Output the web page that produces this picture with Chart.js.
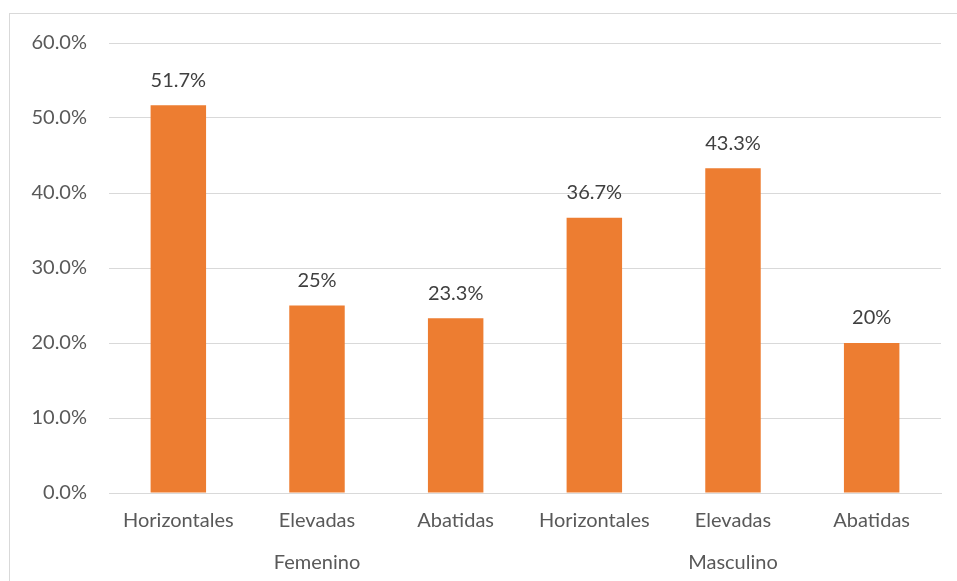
<!DOCTYPE html>
<html lang="es">
<head>
    <meta charset="UTF-8">
    <title>Posición por sexo</title>
    <script src="https://cdn.jsdelivr.net/npm/chart.js"></script>
    <style>
        html, body { margin: 0; padding: 0; background: #fff; }
        .wrap { width: 957px; height: 581px; position: relative; }
    </style>
</head>
<body>
    <div class="wrap">
        <canvas id="barChart"></canvas>
    </div>

    <script>
        // chart data
        var categories = ["Horizontales", "Elevadas", "Abatidas", "Horizontales", "Elevadas", "Abatidas"];
        var groups = ["", "Femenino", "", "", "Masculino", ""];
        var values = [51.7, 25, 23.3, 36.7, 43.3, 20];
        var valueLabels = ["51.7%", "25%", "23.3%", "36.7%", "43.3%", "20%"];
        var yTicks = [0, 10, 20, 30, 40, 50, 60];

        var FONT = "Lato, 'Open Sans', sans-serif";
        var FONT_SIZE = 20;

        // light gray frame around the chart
        var framePlugin = {
            id: 'frame',
            beforeDraw: function (chart) {
                var ctx = chart.ctx;
                ctx.save();
                ctx.strokeStyle = '#D9D9D9';
                ctx.lineWidth = 1;
                ctx.strokeRect(9.5, 13.5, chart.width + 20, chart.height + 20);
                ctx.restore();
            }
        };

        // value labels over each bar
        var valueLabelPlugin = {
            id: 'valueLabels',
            afterDatasetsDraw: function (chart) {
                var ctx = chart.ctx;
                var meta = chart.getDatasetMeta(0);
                ctx.save();
                ctx.font = FONT_SIZE + 'px ' + FONT;
                ctx.fillStyle = '#404040';
                ctx.textAlign = 'center';
                ctx.textBaseline = 'middle';
                meta.data.forEach(function (bar, i) {
                    ctx.fillText(valueLabels[i], bar.x, bar.y - 25);
                });
                ctx.restore();
            }
        };

        var ctx = document.getElementById("barChart").getContext("2d");
        var myBarChart = new Chart(ctx, {
            type: 'bar',
            data: {
                labels: categories,
                datasets: [{
                    data: values,
                    backgroundColor: "#ED7D31",
                    borderWidth: 0,
                    categoryPercentage: 1,
                    barPercentage: 0.4
                }]
            },
            options: {
                responsive: true,
                maintainAspectRatio: false,
                animation: false,
                layout: {
                    padding: { left: 20, top: 43, right: 16, bottom: 0 }
                },
                plugins: {
                    legend: { display: false },
                    tooltip: { enabled: false }
                },
                scales: {
                    y: {
                        min: 0,
                        max: 60,
                        afterBuildTicks: function (scale) {
                            scale.ticks = yTicks.map(function (v) { return { value: v }; });
                        },
                        afterFit: function (scale) { scale.width = 89; },
                        border: { display: false },
                        grid: { color: '#D9D9D9', drawTicks: false },
                        ticks: {
                            padding: 22,
                            color: '#595959',
                            font: { family: FONT, size: FONT_SIZE },
                            callback: function (v) { return v.toFixed(1) + '%'; }
                        }
                    },
                    x: {
                        afterFit: function (scale) { scale.height = 48; },
                        grid: { display: false, drawTicks: false },
                        border: { display: true, color: '#D9D9D9' },
                        ticks: {
                            padding: 16,
                            color: '#595959',
                            font: { family: FONT, size: FONT_SIZE },
                            maxRotation: 0,
                            autoSkip: false
                        }
                    },
                    x2: {
                        type: 'category',
                        position: 'bottom',
                        labels: groups,
                        afterFit: function (scale) { scale.height = 40; },
                        grid: { display: false, drawTicks: false },
                        border: { display: false },
                        ticks: {
                            padding: 10,
                            color: '#595959',
                            font: { family: FONT, size: FONT_SIZE },
                            maxRotation: 0,
                            autoSkip: false
                        }
                    }
                }
            },
            plugins: [framePlugin, valueLabelPlugin]
        });
    </script>
</body>
</html>
